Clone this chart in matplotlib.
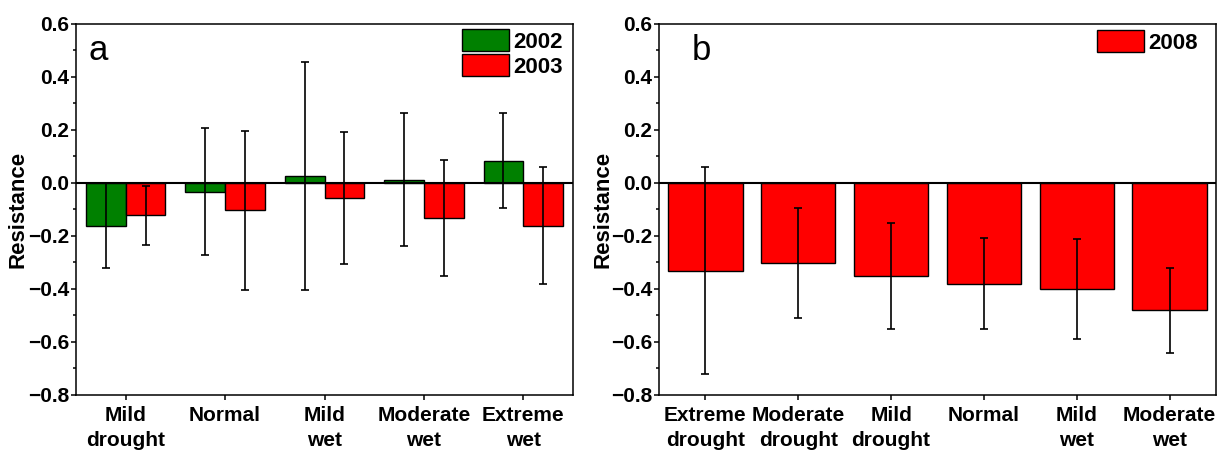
import numpy as np
import matplotlib
matplotlib.use("Agg")
import matplotlib.pyplot as plt
from matplotlib.ticker import MultipleLocator

plt.rcParams['font.family'] = ['Liberation Sans', 'DejaVu Sans']
plt.rcParams['font.weight'] = 'bold'
plt.rcParams['axes.unicode_minus'] = True

# panel a data
cats_a = ["Mild\ndrought", "Normal", "Mild\nwet", "Moderate\nwet", "Extreme\nwet"]
res_2002 = [-0.163, -0.035, 0.025, 0.011, 0.083]
err_2002 = [0.160, 0.240, 0.430, 0.250, 0.180]
res_2003 = [-0.123, -0.104, -0.059, -0.133, -0.162]
err_2003 = [0.111, 0.300, 0.250, 0.220, 0.220]

# panel b data
cats_b = ["Extreme\ndrought", "Moderate\ndrought", "Mild\ndrought", "Normal", "Mild\nwet", "Moderate\nwet"]
res_2008 = [-0.332, -0.304, -0.353, -0.382, -0.402, -0.482]
err_2008 = [0.390, 0.208, 0.200, 0.171, 0.190, 0.160]

GREEN = "#008000"
RED = "#FF0000"

fig = plt.figure(figsize=(12.23, 4.51), dpi=100)
ax1 = fig.add_axes([76 / 1223, 1 - 394.5 / 451, (573 - 76) / 1223, (394.5 - 23.7) / 451])
ax2 = fig.add_axes([659 / 1223, 1 - 394.5 / 451, (1216 - 659) / 1223, (394.5 - 23.7) / 451])

ekw = dict(ecolor='black', elinewidth=1.2, capsize=2.8, capthick=1.2, zorder=4)

# ---- panel a ----
x = np.arange(len(cats_a))
w = 0.4
ax1.bar(x - w / 2, res_2002, w, color=GREEN, edgecolor='black', linewidth=1.0,
        label='2002', zorder=2)
ax1.bar(x + w / 2, res_2003, w, color=RED, edgecolor='black', linewidth=1.0,
        label='2003', zorder=2)
ax1.errorbar(x - w / 2, res_2002, yerr=err_2002, fmt='none', **ekw)
ax1.errorbar(x + w / 2, res_2003, yerr=err_2003, fmt='none', **ekw)
ax1.set_xticks(x)
ax1.set_xticklabels(cats_a, va='top', linespacing=1.4)
ax1.set_xlim(-0.5, len(cats_a) - 0.5)
ax1.legend(loc='upper right', bbox_to_anchor=(1 - 10 / 497, 1 - 5 / 371),
           borderaxespad=0, borderpad=0, frameon=False, fontsize=16,
           handlelength=2.1, handleheight=1.2, handletextpad=0.2,
           labelspacing=0.05)
ax1.text(13 / 497, 1 - 36 / 371, "a", transform=ax1.transAxes,
         fontsize=25, fontweight='normal', ha='left', va='baseline')

# ---- panel b ----
xb = np.arange(len(cats_b))
ax2.bar(xb, res_2008, 0.8, color=RED, edgecolor='black', linewidth=1.0,
        label='2008', zorder=2)
ax2.errorbar(xb, res_2008, yerr=err_2008, fmt='none', **ekw)
ax2.set_xticks(xb)
ax2.set_xticklabels(cats_b, va='top', linespacing=1.4)
ax2.set_xlim(-0.5, len(cats_b) - 0.5)
ax2.legend(loc='upper right', bbox_to_anchor=(1 - 18 / 557, 1 - 6 / 371),
           borderaxespad=0, borderpad=0, frameon=False, fontsize=16,
           handlelength=2.1, handleheight=1.2, handletextpad=0.2)
ax2.text(33 / 557, 1 - 36 / 371, "b", transform=ax2.transAxes,
         fontsize=25, fontweight='normal', ha='left', va='baseline')

for ax, lx in [(ax1, (18 - 76) / 497), (ax2, (603 - 659) / 557)]:
    ax.set_ylim(-0.8, 0.6)
    ax.yaxis.set_major_locator(MultipleLocator(0.2))
    ax.yaxis.set_minor_locator(MultipleLocator(0.1))
    ax.yaxis.set_major_formatter(plt.FuncFormatter(
        lambda v, p: f"{v:.1f}".replace('-', '\u2212') if abs(v) > 1e-9 else "0.0"))
    ax.axhline(0, color='black', linewidth=1.5, zorder=3)
    ax.tick_params(axis='y', which='major', direction='out', length=3.6, width=1.1,
                   pad=1.5, labelsize=15)
    ax.tick_params(axis='y', which='minor', direction='out', length=2, width=1.1)
    ax.tick_params(axis='x', which='major', direction='out', length=3.6, width=1.1,
                   pad=5, labelsize=15)
    ax.tick_params(top=False, right=False)
    for s in ax.spines.values():
        s.set_linewidth(1.1)
    ax.set_ylabel("Resistance", fontsize=16, fontweight='bold', va='center')
    ax.yaxis.set_label_coords(lx, 0.5)

fig.savefig("out.png", dpi=100)
